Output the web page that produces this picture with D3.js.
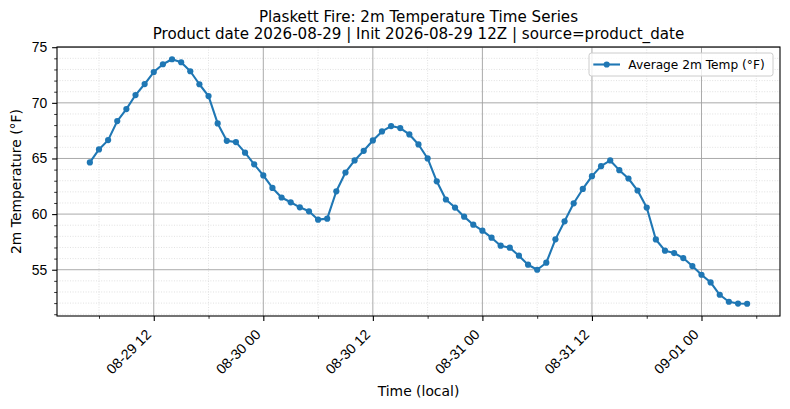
<!DOCTYPE html>
<html>
<head>
<meta charset="utf-8">
<script src="https://cdn.jsdelivr.net/npm/d3@7"></script>
<style>
  body { margin: 0; background: #fff; }
  svg { font-family: "DejaVu Sans", sans-serif; }
</style>
</head>
<body>
<div id="chart"></div>
<script>
// hourly series, first reading at 2026-08-29 05:00 local
var startTime = Date.UTC(2026, 7, 29, 5);
var temps = [
  64.64, 65.81, 66.65, 68.36, 69.44, 70.70, 71.69, 72.77, 73.47, 73.92,
  73.65, 72.84, 71.67, 70.61, 68.15, 66.59, 66.47, 65.52, 64.47, 63.48,
  62.35, 61.49, 61.06, 60.61, 60.25, 59.50, 59.59, 62.05, 63.74, 64.82,
  65.69, 66.62, 67.43, 67.91, 67.73, 67.16, 66.26, 65.00, 62.95, 61.31,
  60.59, 59.77, 59.05, 58.51, 57.88, 57.16, 56.98, 56.26, 55.45, 55.00,
  55.63, 57.73, 59.35, 60.97, 62.26, 63.41, 64.31, 64.82, 63.95, 63.20,
  62.12, 60.59, 57.72, 56.71, 56.50, 56.05, 55.33, 54.55, 53.86, 52.75,
  52.12, 51.96, 51.94
];
var yMajorTicks = [55, 60, 65, 70, 75];
var titleLines = [
  "Plaskett Fire: 2m Temperature Time Series",
  "Product date 2026-08-29 | Init 2026-08-29 12Z | source=product_date"
];
var seriesName = "Average 2m Temp (\u00b0F)";

var data = temps.map(function(t, i) {
  return { time: new Date(startTime + i * 3600e3), temp: t };
});

var width = 790, height = 409;
var margin = { top: 47, right: 10, bottom: 93, left: 57 };
var x0 = margin.left, x1 = width - margin.right;
var y0 = margin.top, y1 = height - margin.bottom;
var blue = "#1f77b4";

var svg = d3.select("#chart").append("svg")
    .attr("width", width)
    .attr("height", height);

// matplotlib style 5% padding on both axes
var tExt = d3.extent(data, function(d) { return d.time; });
var tPad = (tExt[1] - tExt[0]) * 0.05;
var x = d3.scaleUtc()
    .domain([new Date(+tExt[0] - tPad), new Date(+tExt[1] + tPad)])
    .range([x0, x1]);

var vExt = d3.extent(temps);
var vPad = (vExt[1] - vExt[0]) * 0.05;
var y = d3.scaleLinear()
    .domain([vExt[0] - vPad, vExt[1] + vPad])
    .range([y1, y0]);

var xMajor = x.ticks(d3.utcHour.every(12));
var xMinor = x.ticks(d3.utcHour.every(6)).filter(function(d) {
  return d.getUTCHours() % 12 !== 0;
});
var yMinor = d3.range(Math.ceil(y.domain()[0]), Math.floor(y.domain()[1]) + 1)
    .filter(function(v) { return v % 5 !== 0; });

var grid = svg.append("g");
grid.selectAll(".ymin").data(yMinor).enter().append("line")
    .attr("x1", x0).attr("x2", x1)
    .attr("y1", function(d) { return y(d); }).attr("y2", function(d) { return y(d); })
    .attr("stroke", "#d4d4d4").attr("stroke-width", 0.7)
    .attr("stroke-dasharray", "1,1.6");
grid.selectAll(".xmin").data(xMinor).enter().append("line")
    .attr("y1", y0).attr("y2", y1)
    .attr("x1", function(d) { return x(d); }).attr("x2", function(d) { return x(d); })
    .attr("stroke", "#d4d4d4").attr("stroke-width", 0.7)
    .attr("stroke-dasharray", "1,1.6");
grid.selectAll(".ymaj").data(yMajorTicks).enter().append("line")
    .attr("x1", x0).attr("x2", x1)
    .attr("y1", function(d) { return y(d); }).attr("y2", function(d) { return y(d); })
    .attr("stroke", "#a0a0a0").attr("stroke-width", 0.9);
grid.selectAll(".xmaj").data(xMajor).enter().append("line")
    .attr("y1", y0).attr("y2", y1)
    .attr("x1", function(d) { return x(d); }).attr("x2", function(d) { return x(d); })
    .attr("stroke", "#a0a0a0").attr("stroke-width", 0.9);

// series
var line = d3.line()
    .x(function(d) { return x(d.time); })
    .y(function(d) { return y(d.temp); });

svg.append("path")
    .datum(data)
    .attr("d", line)
    .attr("fill", "none")
    .attr("stroke", blue)
    .attr("stroke-width", 2.1)
    .attr("stroke-linejoin", "round");

svg.append("g").selectAll("circle")
    .data(data).enter().append("circle")
    .attr("cx", function(d) { return x(d.time); })
    .attr("cy", function(d) { return y(d.temp); })
    .attr("r", 3.1)
    .attr("fill", blue);

// axes
var fmt = d3.utcFormat("%m-%d %H");
var xAxis = svg.append("g")
    .attr("transform", "translate(0," + y1 + ")")
    .call(d3.axisBottom(x).tickValues(xMajor).tickFormat(fmt)
        .tickSize(4.9).tickPadding(4.9));
xAxis.select(".domain").remove();
xAxis.selectAll("line").attr("stroke-width", 1.1);
xAxis.selectAll("text")
    .attr("font-size", "14.2px")
    .attr("fill", "#000")
    .attr("text-anchor", "end")
    .attr("dy", null)
    .attr("y", null)
    .attr("transform", "translate(-2.3,19.5) rotate(-45)");

svg.append("g")
    .attr("transform", "translate(0," + y1 + ")")
    .call(d3.axisBottom(x).tickValues(xMinor).tickFormat("").tickSize(2.8))
    .call(function(g) { g.select(".domain").remove(); })
    .selectAll("line").attr("stroke-width", 0.8);

var yAxis = svg.append("g")
    .attr("transform", "translate(" + x0 + ",0)")
    .call(d3.axisLeft(y).tickValues(yMajorTicks).tickFormat(d3.format("d"))
        .tickSize(4.9).tickPadding(4.9));
yAxis.select(".domain").remove();
yAxis.selectAll("line").attr("stroke-width", 1.1);
yAxis.selectAll("text").attr("font-size", "13.9px").attr("fill", "#000");

svg.append("g")
    .attr("transform", "translate(" + x0 + ",0)")
    .call(d3.axisLeft(y).tickValues(yMinor).tickFormat("").tickSize(2.8))
    .call(function(g) { g.select(".domain").remove(); })
    .selectAll("line").attr("stroke-width", 0.8);

// frame
svg.append("rect")
    .attr("x", x0).attr("y", y0)
    .attr("width", x1 - x0).attr("height", y1 - y0)
    .attr("fill", "none").attr("stroke", "#000").attr("stroke-width", 1.1);

// title
svg.selectAll(".title").data(titleLines).enter().append("text")
    .attr("x", (x0 + x1) / 2)
    .attr("y", function(d, i) { return 21.7 + i * 16.8; })
    .attr("text-anchor", "middle")
    .attr("font-size", "15.1px")
    .text(function(d) { return d; });

svg.append("text")
    .attr("x", (x0 + x1) / 2)
    .attr("y", 396)
    .attr("text-anchor", "middle")
    .attr("font-size", "13.9px")
    .text("Time (local)");

svg.append("text")
    .attr("transform", "translate(21," + ((y0 + y1) / 2) + ") rotate(-90)")
    .attr("text-anchor", "middle")
    .attr("font-size", "13.9px")
    .text("2m Temperature (\u00b0F)");

// legend
var legend = svg.append("g").attr("transform", "translate(589,53)");
legend.append("rect")
    .attr("width", 184).attr("height", 23)
    .attr("rx", 2.5)
    .attr("fill", "#fff").attr("fill-opacity", 0.8)
    .attr("stroke", "#cccccc").attr("stroke-width", 1);
legend.append("line")
    .attr("x1", 4.3).attr("x2", 31)
    .attr("y1", 11.5).attr("y2", 11.5)
    .attr("stroke", blue).attr("stroke-width", 2.1);
legend.append("circle")
    .attr("cx", 17.7).attr("cy", 11.5).attr("r", 3.1)
    .attr("fill", blue);
legend.append("text")
    .attr("x", 39.3).attr("y", 15.6)
    .attr("font-size", "12.2px")
    .text(seriesName);
</script>
</body>
</html>
